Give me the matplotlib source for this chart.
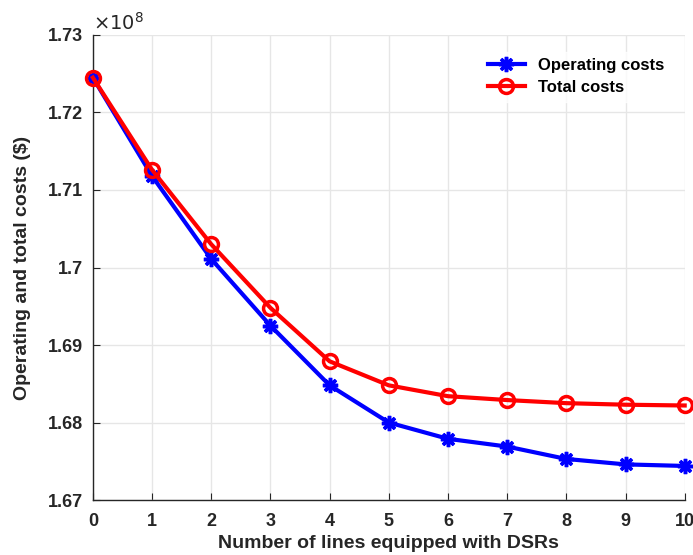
import matplotlib
matplotlib.use("Agg")
import matplotlib.pyplot as plt

plt.rcParams['font.family'] = ['Liberation Sans', 'DejaVu Sans']

# number of lines with DSRs
n_lines = [0, 1, 2, 3, 4, 5, 6, 7, 8, 9, 10]
# costs in units of 1e8 $
operating = [1.7245, 1.7118, 1.7011, 1.6925, 1.6848, 1.6800, 1.6779, 1.6769, 1.6753, 1.6746, 1.6744]
total = [1.7245, 1.7126, 1.7030, 1.6948, 1.6879, 1.6848, 1.6834, 1.6829, 1.6825, 1.6823, 1.6822]

yticks = [1.67, 1.68, 1.69, 1.70, 1.71, 1.72, 1.73]
ytick_labels = ['1.67', '1.68', '1.69', '1.7', '1.71', '1.72', '1.73']

fig = plt.figure(figsize=(6.93, 5.55), dpi=100)
ax = fig.add_axes([0.134, 0.099, 0.854, 0.838])

ax.plot(n_lines, operating, color='blue', lw=3, marker=(8, 2, 0), ms=11,
        mew=2.5, label='Operating costs', clip_on=False, zorder=3)
ax.plot(n_lines, total, color='red', lw=3, marker='o', ms=10, mfc='none',
        mew=2.5, label='Total costs', clip_on=False, zorder=3)

ax.set_xlim(0, 10)
ax.set_ylim(1.67, 1.73)
ax.set_xticks(n_lines)
ax.set_yticks(yticks)
ax.set_yticklabels(ytick_labels)
ax.grid(True, color='#e6e6e6', lw=1)
ax.set_axisbelow(True)
for s in ['top', 'right']:
    ax.spines[s].set_visible(False)
for s in ['left', 'bottom']:
    ax.spines[s].set_color('#262626')
    ax.spines[s].set_linewidth(1)
ax.tick_params(direction='in', length=5, color='#262626', labelsize=13,
               labelcolor='#262626')
ax.tick_params(axis='x', pad=9)
ax.tick_params(axis='y', pad=7)
for lbl in ax.get_xticklabels() + ax.get_yticklabels():
    lbl.set_fontweight('bold')

ax.set_xlabel('Number of lines equipped with DSRs', fontsize=14,
              fontweight='bold', color='#262626', labelpad=4)
ax.set_ylabel('Operating and total costs ($)', fontsize=14,
              fontweight='bold', color='#262626', labelpad=12)
ax.text(0.0, 1.002, r'$\times10^{8}$', transform=ax.transAxes, fontsize=14,
        color='#262626', ha='left', va='bottom', family='DejaVu Sans')

leg = ax.legend(loc='upper right', bbox_to_anchor=(0.985, 0.975), fontsize=12,
                frameon=True, handlelength=2.2, borderaxespad=0.3,
                labelspacing=0.4)
leg.get_frame().set_facecolor('white')
leg.get_frame().set_edgecolor('white')
for t in leg.get_texts():
    t.set_fontweight('bold')

fig.savefig('out.png', dpi=100)
